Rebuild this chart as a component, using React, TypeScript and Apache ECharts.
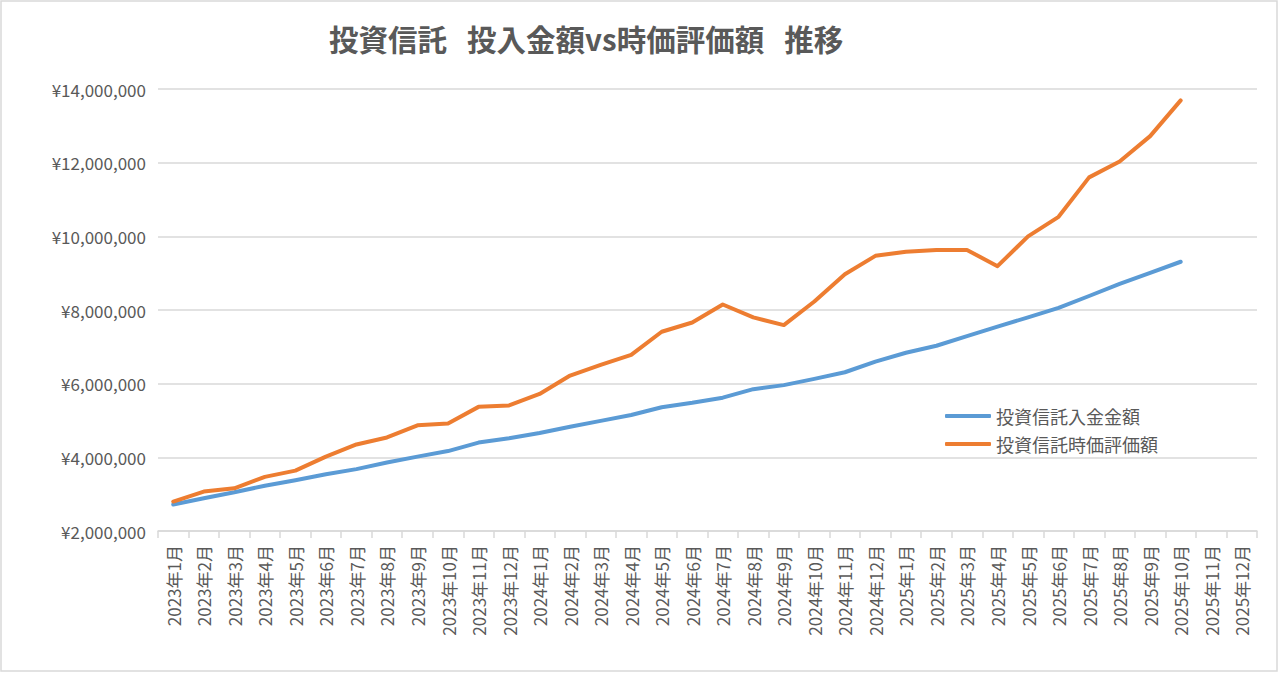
import { useEffect, useRef } from 'react';
import * as echarts from 'echarts';

const months = [
  '2023年1月', '2023年2月', '2023年3月', '2023年4月', '2023年5月', '2023年6月',
  '2023年7月', '2023年8月', '2023年9月', '2023年10月', '2023年11月', '2023年12月',
  '2024年1月', '2024年2月', '2024年3月', '2024年4月', '2024年5月', '2024年6月',
  '2024年7月', '2024年8月', '2024年9月', '2024年10月', '2024年11月', '2024年12月',
  '2025年1月', '2025年2月', '2025年3月', '2025年4月', '2025年5月', '2025年6月',
  '2025年7月', '2025年8月', '2025年9月', '2025年10月', '2025年11月', '2025年12月',
];

// 投資信託入金金額
const invested = [
  2720000, 2890000, 3050000, 3230000, 3380000, 3540000, 3680000, 3860000, 4020000, 4170000,
  4400000, 4520000, 4660000, 4830000, 4990000, 5150000, 5360000, 5480000, 5620000, 5850000,
  5960000, 6130000, 6310000, 6600000, 6840000, 7030000, 7290000, 7550000, 7800000, 8060000,
  8380000, 8710000, 9010000, 9310000,
];

// 投資信託時価評価額
const marketValue = [
  2800000, 3070000, 3160000, 3470000, 3640000, 4020000, 4350000, 4540000, 4870000, 4920000,
  5370000, 5410000, 5720000, 6220000, 6510000, 6780000, 7410000, 7660000, 8150000, 7800000,
  7590000, 8230000, 8970000, 9470000, 9580000, 9630000, 9630000, 9190000, 10000000, 10530000,
  11600000, 12030000, 12720000, 13690000,
];

const yTicks = { min: 2000000, max: 14000000, interval: 2000000 };

const FONT = '"Noto Sans CJK JP", "Noto Sans", sans-serif';
const TEXT = '#595959';
const GRID = '#d9d9d9';

export default function App() {
  const ref = useRef<HTMLDivElement>(null);

  useEffect(() => {
    if (!ref.current) return;
    const chart = echarts.init(ref.current, null, { renderer: 'svg' });

    chart.setOption({
      animation: false,
      backgroundColor: '#ffffff',
      title: {
        text: '投資信託   投入金額vs時価評価額   推移',
        left: 324,
        top: 18,
        textStyle: { fontFamily: FONT, fontSize: 29.5, fontWeight: 'bold', color: TEXT },
      },
      graphic: [
        {
          type: 'rect',
          shape: { x: 1, y: 1, width: 1276, height: 670 },
          style: { fill: 'none', stroke: GRID, lineWidth: 1.5 },
          silent: true,
        },
      ],
      legend: {
        orient: 'vertical',
        left: 940,
        top: 401,
        itemWidth: 46,
        itemHeight: 4,
        itemGap: 8,
        icon: 'roundRect',
        textStyle: { fontFamily: FONT, fontSize: 18, color: TEXT, lineHeight: 20 },
        data: ['投資信託入金金額', '投資信託時価評価額'],
      },
      grid: { left: 158, right: 24, top: 89, bottom: 143 },
      xAxis: {
        type: 'category',
        data: months,
        boundaryGap: true,
        axisLine: { lineStyle: { color: GRID, width: 1.5 } },
        axisTick: { show: true, length: 7, lineStyle: { color: GRID, width: 1.5 } },
        axisLabel: {
          interval: 0,
          rotate: 90,
          margin: 14,
          fontFamily: FONT,
          fontSize: 17,
          color: TEXT,
        },
      },
      yAxis: {
        type: 'value',
        min: yTicks.min,
        max: yTicks.max,
        interval: yTicks.interval,
        axisLine: { show: false },
        axisTick: { show: false },
        splitLine: { lineStyle: { color: GRID, width: 1.5 } },
        axisLabel: {
          margin: 12,
          fontFamily: FONT,
          fontSize: 17,
          color: TEXT,
          formatter: (v: number) => '¥' + v.toLocaleString('en-US'),
        },
      },
      series: [
        {
          name: '投資信託入金金額',
          type: 'line',
          data: invested,
          showSymbol: false,
          symbol: 'none',
          itemStyle: { color: '#5b9bd5' },
          lineStyle: { color: '#5b9bd5', width: 4, cap: 'round', join: 'round' },
        },
        {
          name: '投資信託時価評価額',
          type: 'line',
          data: marketValue,
          showSymbol: false,
          symbol: 'none',
          itemStyle: { color: '#ed7d31' },
          lineStyle: { color: '#ed7d31', width: 4, cap: 'round', join: 'round' },
        },
      ],
    });

    return () => chart.dispose();
  }, []);

  return (
    <div
      ref={ref}
      style={{ position: 'fixed', left: 0, top: 0, width: 1281, height: 674, background: '#fff' }}
    />
  );
}
